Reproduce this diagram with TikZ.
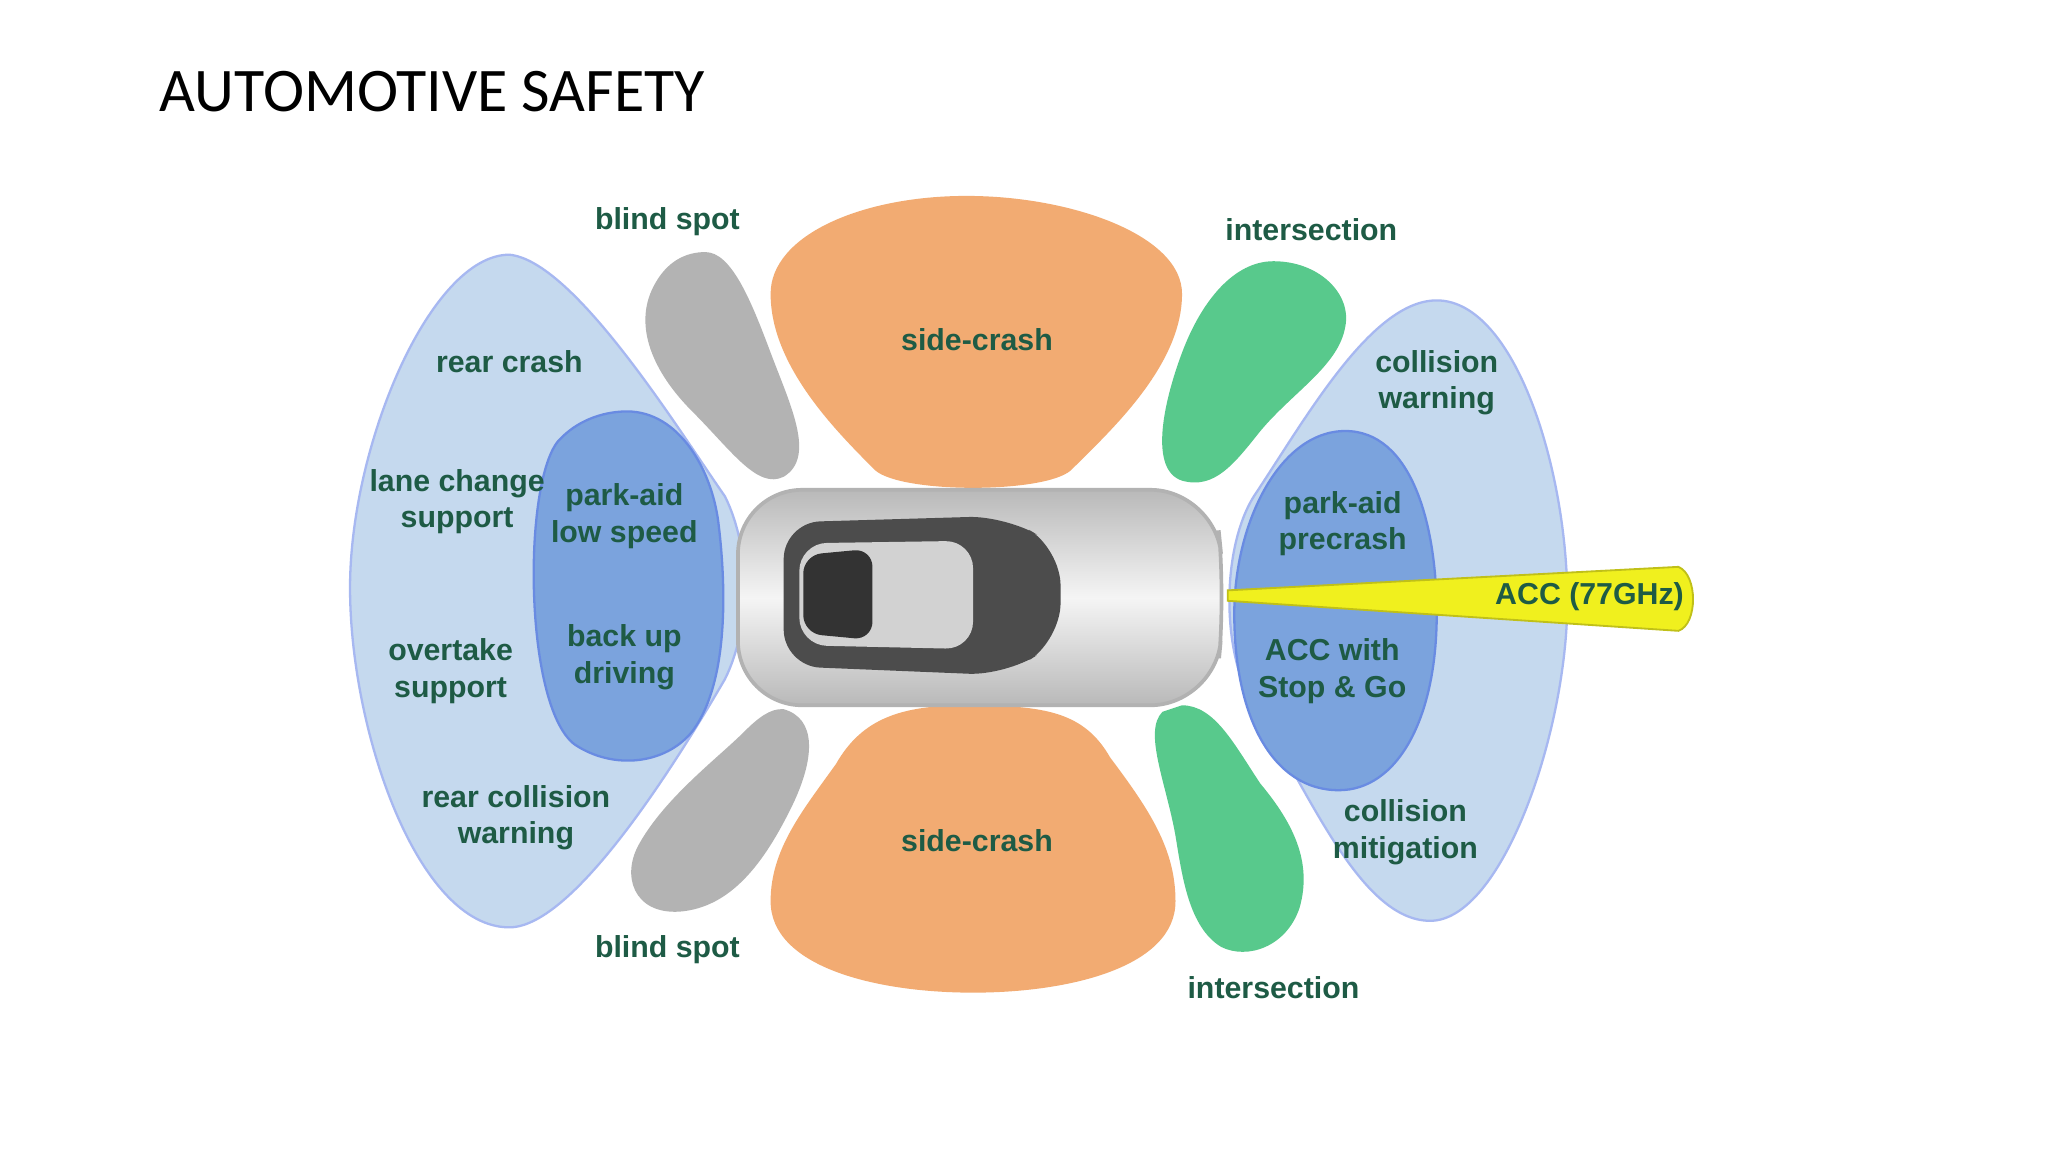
\documentclass[tikz,border=0pt]{standalone}
\usepackage{fontspec}
\setmainfont{Liberation Sans}
\newfontfamily\titlefont{Carlito}
\begin{document}
\begin{tikzpicture}[x=0.01cm,y=-0.01cm]
\definecolor{lb}{HTML}{C5D9EE}
\definecolor{db}{HTML}{7BA3DD}
\definecolor{gr}{HTML}{B3B3B3}
\definecolor{org}{HTML}{F2AB72}
\definecolor{grn}{HTML}{58C98C}
\definecolor{tx}{HTML}{1E5B45}
\definecolor{yl}{HTML}{F0F01E}
\tikzset{lbl/.style={text=tx,font=\fontsize{6.6}{8}\selectfont\bfseries,align=center},
 blob/.style={line width=0.5pt}}
\useasboundingbox (0,0) rectangle (1568,882);
\fill[white] (0,0) rectangle (1568,882);
\node[anchor=west,font=\titlefont\fontsize{13.5}{16}\selectfont] (title) at (110,70) {AUTOMOTIVE SAFETY};
% left outer
\filldraw[fill=lb,draw=lb!85!blue,blob] (390,195) .. controls (440,200) and (520,330) .. (555,380)
 .. controls (575,420) and (575,480) .. (555,520) .. controls (520,580) and (440,710) .. (390,710)
 .. controls (320,710) and (268,560) .. (268,450) .. controls (268,340) and (330,195) .. (390,195) -- cycle;
\filldraw[fill=db,draw=db!85!blue,blob] (480,315) .. controls (520,315) and (545,360) .. (550,400)
 .. controls (555,440) and (560,520) .. (530,560) .. controls (510,585) and (470,590) .. (440,570)
 .. controls (400,540) and (400,360) .. (430,335) .. controls (445,320) and (465,315) .. (480,315) -- cycle;
% right outer
\filldraw[fill=lb,draw=lb!85!blue,blob] (1100,230) .. controls (1160,230) and (1200,360) .. (1200,460)
 .. controls (1200,560) and (1150,705) .. (1095,705) .. controls (1040,705) and (1000,600) .. (960,540)
 .. controls (935,500) and (935,420) .. (960,380) .. controls (1000,320) and (1050,230) .. (1100,230) -- cycle;
\filldraw[fill=db,draw=db!85!blue,blob] (1030,330) .. controls (1080,330) and (1100,400) .. (1100,470)
 .. controls (1100,550) and (1070,605) .. (1025,605) .. controls (975,605) and (945,550) .. (945,470)
 .. controls (945,400) and (980,330) .. (1030,330) -- cycle;
% grey blind spots
\fill[gr] (540,193) .. controls (560,193) and (575,230) .. (590,270) .. controls (605,310) and (625,350) .. (600,365)
 .. controls (580,375) and (560,345) .. (530,315) .. controls (500,285) and (485,250) .. (500,220) .. controls (510,200) and (525,193) .. (540,193) -- cycle;
\fill[gr] (600,543) .. controls (625,550) and (625,580) .. (605,620) .. controls (585,660) and (560,695) .. (520,698)
 .. controls (485,700) and (475,670) .. (490,645) .. controls (510,610) and (550,580) .. (570,560) .. controls (580,550) and (590,542) .. (600,543) -- cycle;
% orange
\fill[org] (740,150) .. controls (820,150) and (905,180) .. (905,225) .. controls (905,280) and (850,330) .. (820,360)
 .. controls (800,378) and (690,378) .. (670,360) .. controls (640,330) and (590,280) .. (590,225) .. controls (590,180) and (660,150) .. (740,150) -- cycle;
\fill[org] (740,540) .. controls (800,540) and (830,545) .. (850,580) .. controls (880,620) and (900,650) .. (900,690)
 .. controls (900,740) and (820,760) .. (745,760) .. controls (670,760) and (590,740) .. (590,690)
 .. controls (590,650) and (615,620) .. (640,585) .. controls (660,550) and (690,540) .. (740,540) -- cycle;
% green
\fill[grn] (975,200) .. controls (1010,200) and (1035,225) .. (1030,250) .. controls (1025,280) and (990,300) .. (965,330)
 .. controls (945,355) and (930,375) .. (905,368) .. controls (880,360) and (890,310) .. (905,270) .. controls (920,230) and (945,200) .. (975,200) -- cycle;
\fill[grn] (905,540) .. controls (930,540) and (945,570) .. (965,600) .. controls (990,630) and (1005,660) .. (995,695)
 .. controls (985,725) and (955,735) .. (935,725) .. controls (910,710) and (905,670) .. (900,640) .. controls (893,600) and (875,560) .. (890,545) -- cycle;
% yellow beam
\filldraw[fill=yl,draw=yl!80!black,line width=0.4pt] (940,452) -- (1285,434) .. controls (1300,440) and (1300,478) .. (1285,483) -- (940,460) -- cycle;
% car
\shade[top color=gray!55,bottom color=gray!55,middle color=gray!8,rounded corners=14pt]
 (565,375) -- (930,375) -- (938,455) -- (930,540) -- (565,540) -- cycle;
\fill[black!70,rounded corners=8pt] (600,400) -- (770,395) -- (812,420) -- (812,490) -- (770,517) -- (600,510) -- cycle;
\fill[gray!35,rounded corners=6pt] (612,416) -- (745,414) -- (745,497) -- (612,494) -- cycle;
\fill[black!80,rounded corners=4pt] (615,425) -- (668,420) -- (668,490) -- (615,485) -- cycle;
\draw[gray!60,line width=0.8pt,rounded corners=14pt] (565,375) -- (930,375) -- (938,455) -- (930,540) -- (565,540) -- cycle;
% labels
\node[lbl] (bs1) at (511,170) {blind spot};
\node[lbl] (bs2) at (511,727) {blind spot};
\node[lbl] (in1) at (1004,176) {intersection};
\node[lbl] (in2) at (975,756) {intersection};
\node[lbl] (sc1) at (748,260) {side-crash};
\node[lbl] (sc2) at (748,644) {side-crash};
\node[lbl] (rc) at (390,277) {rear crash};
\node[lbl] (lcs) at (350,384) {lane change\\support};
\node[lbl] (os) at (345,514) {overtake\\support};
\node[lbl] (rcw) at (395,626) {rear collision\\warning};
\node[lbl] (pal) at (478,395) {park-aid\\low speed};
\node[lbl] (bud) at (478,503) {back up\\driving};
\node[lbl] (cw) at (1100,293) {collision\\warning};
\node[lbl] (pap) at (1028,401) {park-aid\\precrash};
\node[lbl] (acc) at (1020,514) {ACC with\\Stop \& Go};
\node[lbl] (cm) at (1076,637) {collision\\mitigation};
\node[lbl] (acc77) at (1217,457) {ACC (77GHz)};
\end{tikzpicture}
\end{document}
